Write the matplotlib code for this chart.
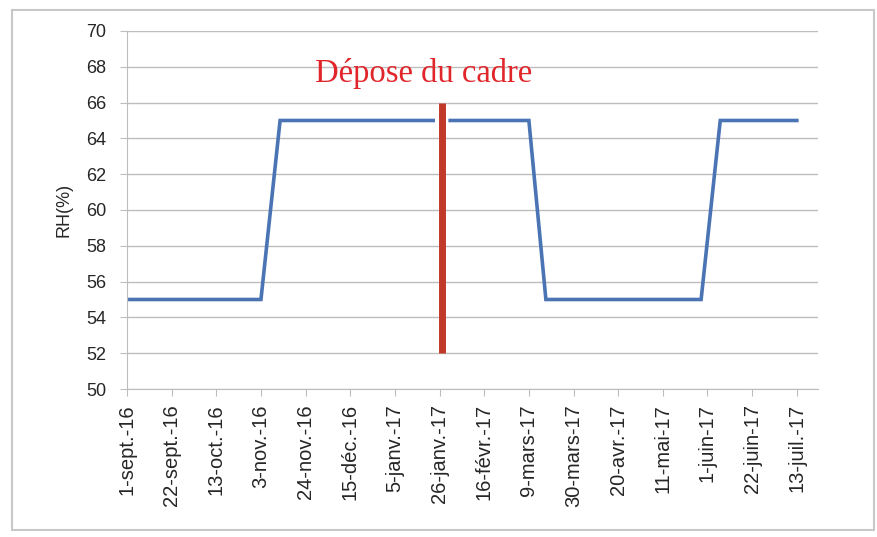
import numpy as np
import pandas as pd
import matplotlib
matplotlib.use("Agg")
import matplotlib.pyplot as plt
import matplotlib.dates as mdates
from matplotlib.patches import Rectangle

# humidity setpoint over the season (NaN splits the line around the frame removal)
dates = pd.to_datetime([
    "2016-09-01", "2016-11-03", "2016-11-12", "2017-01-23", "2017-01-27",
    "2017-01-31", "2017-03-09", "2017-03-17", "2017-05-29", "2017-06-07",
    "2017-07-13",
])
rh = [55, 55, 65, 65, np.nan, 65, 65, 55, 55, 65, 65]

# frame removal marker
event_date = pd.Timestamp("2017-01-27")
event_low, event_high = 52, 66
event_label = "Dépose du cadre"

tick_dates = pd.date_range("2016-09-01", periods=16, freq="21D")
tick_labels = [
    "1-sept.-16", "22-sept.-16", "13-oct.-16", "3-nov.-16", "24-nov.-16",
    "15-déc.-16", "5-janv.-17", "26-janv.-17", "16-févr.-17", "9-mars-17",
    "30-mars-17", "20-avr.-17", "11-mai-17", "1-juin-17", "22-juin-17",
    "13-juil.-17",
]

plt.rcParams["font.family"] = ["Liberation Sans", "DejaVu Sans"]

fig = plt.figure(figsize=(8.77, 5.37), dpi=100)
ax = fig.add_axes([0.1448, 0.2756, 0.788, 0.6667])

# chart border
fig.patches.append(Rectangle((0.0137, 0.013), 0.983, 0.968, transform=fig.transFigure,
                             fill=False, edgecolor="#c8c8c8", linewidth=1.5))

ax.plot(dates, rh, color="#4a74b4", linewidth=2.6, solid_joinstyle="miter")
ax.vlines(event_date, event_low, event_high, color="#c0392b", linewidth=5)
ax.text(mdates.date2num(event_date) - 8.5, 67.15, event_label, color="#e0262b",
        fontsize=23.5, family=["Liberation Serif"], ha="center", va="baseline")

ax.set_ylim(50, 70)
ax.set_yticks(np.arange(50, 71, 2))
ax.set_xlim(pd.Timestamp("2016-09-01"), pd.Timestamp("2017-07-23"))
ax.set_xticks(tick_dates)
ax.set_xticklabels(tick_labels, rotation=90)
ax.set_ylabel("RH(%)", fontsize=13, color="#262626", labelpad=10)

ax.grid(axis="y", color="#bdbdbd", linewidth=1)
ax.set_axisbelow(True)
for side in ["top", "right"]:
    ax.spines[side].set_visible(False)
for side in ["left", "bottom"]:
    ax.spines[side].set_color("#bdbdbd")
ax.tick_params(axis="y", length=5, color="#bdbdbd", labelsize=13, pad=10,
               labelcolor="#262626")
ax.tick_params(axis="x", length=5, color="#bdbdbd", labelsize=14.5, pad=6,
               labelcolor="#262626")

fig.savefig("out.png", dpi=100)
